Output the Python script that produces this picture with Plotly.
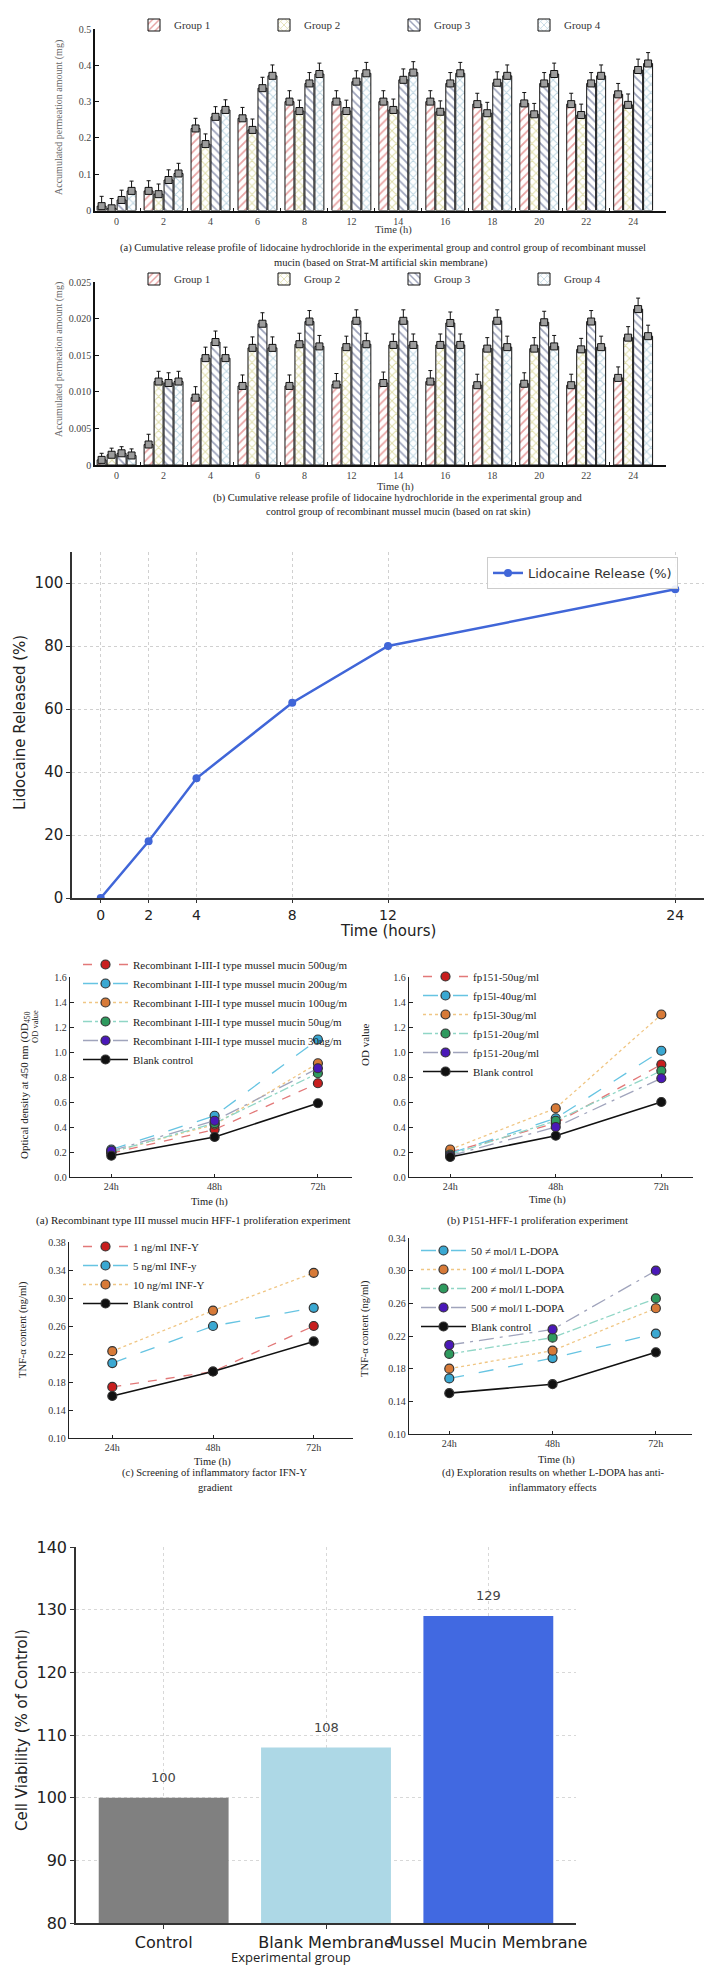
import plotly.graph_objects as go

W, H = 708, 1969


def px(x):
    return x / W


def py(y):
    return 1 - y / H


SERIF = "Liberation Serif, Times New Roman, serif"
SANS = "DejaVu Sans, Arial, sans-serif"

# ---------------- data ----------------
time_labels = ["0", "2", "4", "6", "8", "12", "14", "16", "18", "20", "22", "24"]
group_names = ["Group 1", "Group 2", "Group 3", "Group 4"]

# (a) Strat-M artificial skin membrane (mg)
strat_g1 = [0.012, 0.054, 0.226, 0.254, 0.300, 0.300, 0.300, 0.300, 0.293, 0.295, 0.293, 0.320]
strat_g2 = [0.006, 0.045, 0.183, 0.222, 0.274, 0.274, 0.277, 0.272, 0.268, 0.265, 0.263, 0.291]
strat_g3 = [0.029, 0.084, 0.258, 0.337, 0.350, 0.355, 0.360, 0.350, 0.352, 0.350, 0.350, 0.387]
strat_g4 = [0.054, 0.102, 0.277, 0.371, 0.376, 0.378, 0.380, 0.378, 0.371, 0.376, 0.371, 0.405]
strat_err = [0.027, 0.028, 0.028, 0.030, 0.030, 0.030, 0.030, 0.030, 0.030, 0.030, 0.030, 0.030]

# (b) rat skin (mg)
rat_g1 = [0.0007, 0.0028, 0.0092, 0.0108, 0.0108, 0.0110, 0.0112, 0.0114, 0.0109, 0.0111, 0.0109, 0.0119]
rat_g2 = [0.0014, 0.0114, 0.0146, 0.0160, 0.0165, 0.0161, 0.0164, 0.0164, 0.0159, 0.0159, 0.0158, 0.0174]
rat_g3 = [0.0016, 0.0112, 0.0168, 0.0193, 0.0196, 0.0197, 0.0197, 0.0194, 0.0197, 0.0195, 0.0196, 0.0213]
rat_g4 = [0.0013, 0.0114, 0.0146, 0.0160, 0.0162, 0.0165, 0.0164, 0.0164, 0.0161, 0.0162, 0.0161, 0.0176]
rat_err = [0.0009, 0.0014, 0.0015, 0.0015, 0.0015, 0.0015, 0.0015, 0.0015, 0.0015, 0.0015, 0.0015, 0.0015]

# Lidocaine release
lido_hours = [0, 2, 4, 8, 12, 24]
lido_release = [0, 18, 38, 62, 80, 98]

# proliferation / inflammation experiments
days = ["24h", "48h", "72h"]
muc500 = [0.19, 0.38, 0.75]
muc200 = [0.22, 0.49, 1.10]
muc100 = [0.20, 0.42, 0.91]
muc50 = [0.20, 0.43, 0.83]
muc30 = [0.21, 0.45, 0.87]
blank_a = [0.17, 0.32, 0.59]

fp50 = [0.20, 0.43, 0.90]
fp40 = [0.19, 0.47, 1.01]
fp30 = [0.22, 0.55, 1.30]
fp20a = [0.18, 0.45, 0.85]
fp20b = [0.17, 0.40, 0.79]
blank_b = [0.16, 0.33, 0.60]

ifn1 = [0.173, 0.195, 0.260]
ifn5 = [0.207, 0.260, 0.286]
ifn10 = [0.224, 0.282, 0.336]
blank_c = [0.160, 0.195, 0.238]

dopa50 = [0.168, 0.193, 0.223]
dopa100 = [0.180, 0.202, 0.254]
dopa200 = [0.198, 0.218, 0.266]
dopa500 = [0.209, 0.228, 0.300]
blank_d = [0.150, 0.161, 0.200]

# cell viability
cell_groups = ["Control", "Blank Membrane", "Mussel Mucin Membrane"]
cell_values = [100, 108, 129]

# ---------------- figure ----------------
fig = go.Figure()

BARGAP = 0.15
SLOT = (1 - BARGAP) / 4
patterns = [("/", "#d04848"), ("x", "#bfbb55"), ("\\", "#3c4878"), ("x", "#7eaec6")]
xi = list(range(len(time_labels)))


def add_bar_panel(series, err, xa, ya, legend):
    for g, vals in enumerate(series):
        shape, col = patterns[g]
        fig.add_trace(go.Bar(
            x=xi, y=vals, name=group_names[g], xaxis=xa, yaxis=ya, legend=legend,
            marker=dict(color="white", line=dict(color="#111", width=1),
                        pattern=dict(shape=shape, fgcolor=col, bgcolor="white",
                                     size=6, solidity=0.3)),
            error_y=dict(type="data", array=err, arrayminus=[0] * len(err),
                         symmetric=False, color="#111", thickness=1, width=2),
        ))
    for g, vals in enumerate(series):
        fig.add_trace(go.Scatter(
            x=[i + (g - 1.5) * SLOT for i in xi], y=vals, mode="markers",
            xaxis=xa, yaxis=ya, showlegend=False, hoverinfo="skip",
            marker=dict(symbol="square", size=7, color="#9c9c9c",
                        line=dict(color="#111", width=1)),
        ))


add_bar_panel([strat_g1, strat_g2, strat_g3, strat_g4], strat_err, "x", "y", "legend")
add_bar_panel([rat_g1, rat_g2, rat_g3, rat_g4], rat_err, "x2", "y2", "legend2")

# Lidocaine release line
fig.add_trace(go.Scatter(
    x=lido_hours, y=lido_release, mode="lines+markers", name="Lidocaine Release (%)",
    xaxis="x3", yaxis="y3", legend="legend3",
    line=dict(color="#4066d8", width=2.5), marker=dict(size=8, color="#4066d8"),
))

STY = {
    "red": dict(line=dict(color="#e27878", dash="dash", width=1.3), marker="#c81e1e"),
    "cyan": dict(line=dict(color="#66c4e2", dash="longdash", width=1.3), marker="#3aa8d2"),
    "orange": dict(line=dict(color="#f0c684", dash="dot", width=1.3), marker="#d77a38"),
    "green": dict(line=dict(color="#90d6c6", dash="dashdot", width=1.3), marker="#2e9a5e"),
    "purple": dict(line=dict(color="#a0a4bc", dash="longdashdot", width=1.3), marker="#4a18b8"),
    "black": dict(line=dict(color="#111111", dash="solid", width=1.6), marker="#111111"),
}


def add_line(y, name, sty, xa, ya, legend):
    s = STY[sty]
    fig.add_trace(go.Scatter(
        x=days, y=y, name=name, mode="lines+markers", xaxis=xa, yaxis=ya, legend=legend,
        line=s["line"],
        marker=dict(size=9, color=s["marker"], line=dict(color="#333", width=1.2)),
    ))


for y, n, s in [
    (muc500, "Recombinant I-III-I type mussel mucin 500ug/m", "red"),
    (muc200, "Recombinant I-III-I type mussel mucin 200ug/m", "cyan"),
    (muc100, "Recombinant I-III-I type mussel mucin 100ug/m", "orange"),
    (muc50, "Recombinant I-III-I type mussel mucin 50ug/m", "green"),
    (muc30, "Recombinant I-III-I type mussel mucin 30ug/m", "purple"),
    (blank_a, "Blank control", "black"),
]:
    add_line(y, n, s, "x4", "y4", "legend4")

for y, n, s in [
    (fp50, "fp151-50ug/ml", "red"),
    (fp40, "fp15l-40ug/ml", "cyan"),
    (fp30, "fp15l-30ug/ml", "orange"),
    (fp20a, "fp151-20ug/ml", "green"),
    (fp20b, "fp151-20ug/ml", "purple"),
    (blank_b, "Blank control", "black"),
]:
    add_line(y, n, s, "x5", "y5", "legend5")

for y, n, s in [
    (ifn1, "1 ng/ml INF-Y", "red"),
    (ifn5, "5 ng/ml INF-y", "cyan"),
    (ifn10, "10 ng/ml INF-Y", "orange"),
    (blank_c, "Blank control", "black"),
]:
    add_line(y, n, s, "x6", "y6", "legend6")

for y, n, s in [
    (dopa50, "50 ≠ mol/l L-DOPA", "cyan"),
    (dopa100, "100 ≠ mol/l L-DOPA", "orange"),
    (dopa200, "200 ≠ mol/l L-DOPA", "green"),
    (dopa500, "500 ≠ mol/l L-DOPA", "purple"),
    (blank_d, "Blank control", "black"),
]:
    add_line(y, n, s, "x7", "y7", "legend7")

# Cell viability bars
fig.add_trace(go.Bar(
    x=cell_groups, y=cell_values, xaxis="x8", yaxis="y8", showlegend=False, width=0.8,
    marker=dict(color=["#808080", "#add8e6", "#4169e1"], line=dict(width=0)),
))

# ---------------- axes ----------------
def serif_font(size=10, color="#333"):
    return dict(family=SERIF, size=size, color=color)


def bar_x(dom):
    return dict(domain=dom, range=[-0.46, 11.70], tickmode="array", tickvals=xi,
                ticktext=time_labels, showline=True, linecolor="#111", linewidth=2,
                ticks="", showgrid=False, zeroline=False, tickfont=serif_font(10, "#444"),
                automargin=False, tickangle=0,
                minor=dict(ticks="inside", tickvals=[i + 0.5 for i in xi[:-1]], ticklen=3,
                           tickcolor="#111", showgrid=False))


def bar_y(dom, rng, vals, texts):
    return dict(domain=dom, range=rng, tickmode="array", tickvals=vals, ticktext=texts,
                showline=True, linecolor="#111", linewidth=1.5, ticks="inside", ticklen=4,
                tickcolor="#111", showgrid=False, zeroline=False, automargin=False,
                tickfont=serif_font(10, "#444"))


layout_axes = {}
layout_axes["xaxis"] = dict(bar_x([px(95), px(666)]), anchor="y")
layout_axes["yaxis"] = dict(bar_y([py(210.5), py(29)], [0, 0.5],
                                  [0, 0.1, 0.2, 0.3, 0.4, 0.5],
                                  ["0", "0.1", "0.2", "0.3", "0.4", "0.5"]), anchor="x")
layout_axes["xaxis2"] = dict(bar_x([px(95), px(666)]), anchor="y2")
layout_axes["yaxis2"] = dict(bar_y([py(465), py(282)], [0, 0.025],
                                   [0, 0.005, 0.010, 0.015, 0.020, 0.025],
                                   ["0", "0.005", "0.010", "0.015", "0.020", "0.025"]), anchor="x2")

layout_axes["xaxis3"] = dict(domain=[px(72), px(704)], range=[-1.2, 25.2], anchor="y3",
                             tickmode="array", tickvals=lido_hours, automargin=False, tickangle=0,
                             showline=True, linecolor="#333", linewidth=1.5,
                             ticks="outside", ticklen=3, tickcolor="#333",
                             showgrid=True, gridcolor="#d0d0d0", griddash="dot",
                             zeroline=False, tickfont=dict(family=SANS, size=14, color="#222"))
layout_axes["yaxis3"] = dict(domain=[py(898), py(551.5)], range=[0, 110], anchor="x3",
                             tickmode="array", tickvals=[0, 20, 40, 60, 80, 100], automargin=False,
                             showline=True, linecolor="#333", linewidth=1.5,
                             ticks="outside", ticklen=4, tickcolor="#333",
                             showgrid=True, gridcolor="#d0d0d0", griddash="dot",
                             zeroline=False, tickfont=dict(family=SANS, size=15, color="#222"))


def small_x(dom, rng, anchor):
    return dict(domain=dom, range=rng, anchor=anchor, type="category", automargin=False,
                tickangle=0, showline=True, linecolor="#222", linewidth=1.3, ticks="inside",
                ticklen=3, tickcolor="#222", showgrid=False, zeroline=False,
                tickfont=serif_font(10, "#333"))


def small_y(dom, rng, dtick, fmt, anchor):
    return dict(domain=dom, range=rng, anchor=anchor, tick0=rng[0], dtick=dtick,
                tickformat=fmt, showline=True, linecolor="#222", linewidth=1.3,
                ticks="inside", ticklen=4, tickcolor="#222", showgrid=False, automargin=False,
                zeroline=False, tickfont=serif_font(10, "#333"))


layout_axes["xaxis4"] = small_x([px(70), px(352)], [-0.4, 2.33], "y4")
layout_axes["yaxis4"] = small_y([py(1177), py(977)], [0, 1.6], 0.2, ".1f", "x4")
layout_axes["xaxis5"] = small_x([px(409), px(693)], [-0.39, 2.30], "y5")
layout_axes["yaxis5"] = small_y([py(1177), py(977)], [0, 1.6], 0.2, ".1f", "x5")
layout_axes["xaxis6"] = small_x([px(69), px(353)], [-0.43, 2.39], "y6")
layout_axes["yaxis6"] = small_y([py(1438), py(1242)], [0.10, 0.38], 0.04, ".2f", "x6")
layout_axes["xaxis7"] = small_x([px(409), px(692)], [-0.39, 2.35], "y7")
layout_axes["yaxis7"] = small_y([py(1434), py(1238)], [0.10, 0.34], 0.04, ".2f", "x7")

layout_axes["xaxis8"] = dict(domain=[px(76), px(576)], range=[-0.54, 2.54], anchor="y8",
                             type="category", automargin=False, tickangle=0,
                             showline=True, linecolor="#333", linewidth=1.5,
                             ticks="outside", ticklen=4, tickcolor="#333",
                             showgrid=True, gridcolor="#d8d8d8", griddash="dot",
                             zeroline=False, tickfont=dict(family=SANS, size=16, color="#222"))
layout_axes["yaxis8"] = dict(domain=[py(1923), py(1547)], range=[80, 140], anchor="x8",
                             tick0=80, dtick=10, automargin=False,
                             showline=True, linecolor="#333", linewidth=1.5,
                             ticks="outside", ticklen=4, tickcolor="#333",
                             showgrid=True, gridcolor="#d8d8d8", griddash="dot",
                             zeroline=False, tickfont=dict(family=SANS, size=16, color="#222"))

# ---------------- legends ----------------
def bar_legend(ycenter):
    return dict(orientation="h", x=px(134), y=py(ycenter), xanchor="left", yanchor="middle",
                entrywidth=85, entrywidthmode="pixels", font=serif_font(11, "#333"),
                bgcolor="rgba(0,0,0,0)", borderwidth=0)


def small_legend(x, ytop):
    return dict(orientation="v", x=px(x), y=py(ytop), xanchor="left", yanchor="top",
                itemwidth=45, font=serif_font(11, "#222"), bgcolor="rgba(0,0,0,0)",
                borderwidth=0, tracegroupgap=0)


legends = dict(
    legend=bar_legend(25),
    legend2=bar_legend(279),
    legend3=dict(x=px(487), y=py(557), xanchor="left", yanchor="top",
                 font=dict(family=SANS, size=13, color="#333"),
                 bgcolor="rgba(255,255,255,0.9)", bordercolor="#cccccc", borderwidth=1),
    legend4=small_legend(78, 950),
    legend5=small_legend(418, 962),
    legend6=small_legend(78, 1232),
    legend7=small_legend(416, 1236),
)

# ---------------- annotations ----------------
def ann(text, x, y, size, family=SERIF, color="#222", angle=0):
    return dict(text=text, x=px(x), y=py(y), xref="paper", yref="paper", showarrow=False,
                font=dict(size=size, family=family, color=color), textangle=angle,
                xanchor="center", yanchor="middle")


annotations = [
    ann("Accumulated permeation amount (mg)", 59, 118, 10, color="#666", angle=-90),
    ann("Time (h)", 393, 230, 10.5, color="#333"),
    ann("(a) Cumulative release profile of lidocaine hydrochloride in the experimental group "
        "and control group of recombinant mussel", 383, 248, 10.5),
    ann("mucin (based on Strat-M artificial skin membrane)", 381, 263, 10.5),
    ann("Accumulated permeation amount (mg)", 59, 360, 10, color="#666", angle=-90),
    ann("Time (h)", 396, 487, 10.5, color="#333"),
    ann("(b) Cumulative release profile of lidocaine hydrochloride in the experimental group and",
        398, 498, 10.5),
    ann("control group of recombinant mussel mucin (based on rat skin)", 398, 512, 10.5),
    ann("Lidocaine Released (%)", 20, 723, 15, family=SANS, color="#222", angle=-90),
    ann("Time (hours)", 388, 931, 15, family=SANS, color="#222"),
    ann("Optical density at 450 nm (OD<sub>450</sub>", 25, 1085, 11, angle=-90),
    ann("OD value", 35, 1027, 8.5, angle=-90),
    ann("Time (h)", 209, 1202, 10.5),
    ann("(a) Recombinant type III mussel mucin HFF-1 proliferation experiment", 193, 1220, 11),
    ann("OD value", 365, 1045, 11, angle=-90),
    ann("Time (h)", 547, 1200, 10.5),
    ann("(b) P151-HFF-1 proliferation experiment", 537, 1220, 11),
    ann("TNF-α content (ng/ml)", 23, 1330, 10.5, angle=-90),
    ann("Time (h)", 213, 1462, 10.5),
    ann("(c) Screening of inflammatory factor IFN-Y", 215, 1473, 10.5),
    ann("gradient", 215, 1487, 10.5),
    ann("TNF-α content (ng/ml)", 365, 1329, 10.5, angle=-90),
    ann("Time (h)", 556, 1460, 10.5),
    ann("(d) Exploration results on whether L-DOPA has anti-", 553, 1473, 10.5),
    ann("inflammatory effects", 553, 1487, 10.5),
    ann("Cell Viability (% of Control)", 22, 1730, 15, family=SANS, color="#222", angle=-90),
    ann("Experimental group", 291, 1957, 13, family="Open Sans, sans-serif", color="#222"),
]
for g, v in zip(cell_groups, cell_values):
    annotations.append(dict(text=str(v), x=g, y=v, xref="x8", yref="y8", showarrow=False,
                            yshift=20, font=dict(family=SANS, size=13, color="#444"),
                            xanchor="center", yanchor="middle"))

fig.update_layout(
    width=W, height=H, autosize=False, margin=dict(l=0, r=0, t=0, b=0, autoexpand=False),
    paper_bgcolor="white", plot_bgcolor="white",
    barmode="group", bargap=BARGAP, bargroupgap=0.1,
    showlegend=True, annotations=annotations, **layout_axes, **legends,
)

fig.write_html("out.html")
